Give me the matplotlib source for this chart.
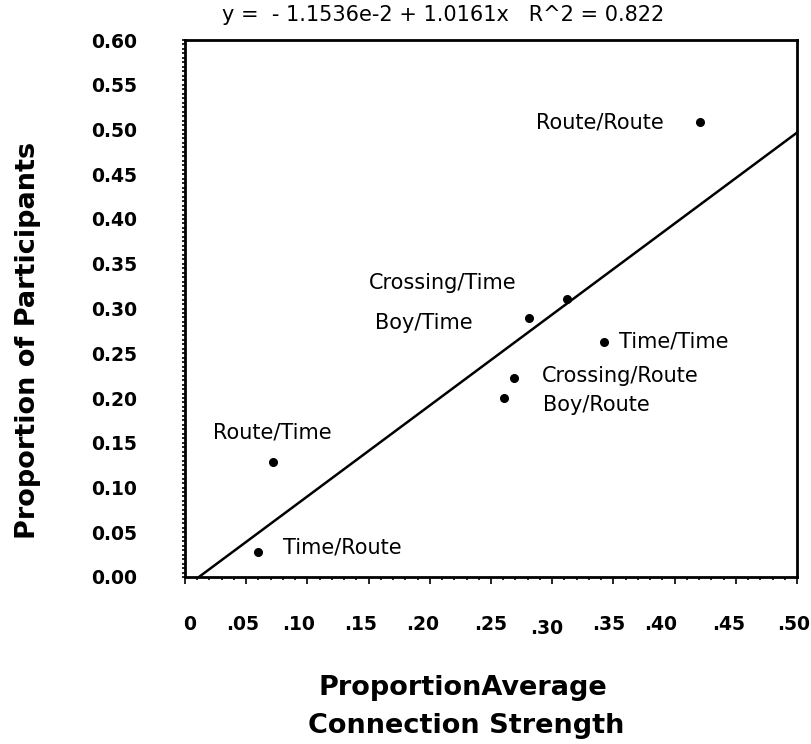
import numpy as np
import matplotlib.pyplot as plt
from matplotlib.ticker import MultipleLocator, FixedFormatter, FixedLocator
from matplotlib.transforms import ScaledTranslation

# data
labels = ['Route/Route', 'Crossing/Time', 'Boy/Time', 'Time/Time',
          'Crossing/Route', 'Boy/Route', 'Route/Time', 'Time/Route']
conn_strength = [0.421, 0.312, 0.281, 0.342, 0.269, 0.261, 0.072, 0.060]
participants = [0.508, 0.311, 0.289, 0.263, 0.222, 0.200, 0.128, 0.028]

intercept = -1.1536e-2
slope = 1.0161
r2 = 0.822

x_ticks = [0, 0.05, 0.10, 0.15, 0.20, 0.25, 0.30, 0.35, 0.40, 0.45, 0.50]
x_ticklabels = ['0', '.05', '.10', '.15', '.20', '.25', '.30', '.35', '.40', '.45', '.50']
y_ticks = [0.0, 0.05, 0.10, 0.15, 0.20, 0.25, 0.30, 0.35, 0.40, 0.45, 0.50, 0.55, 0.60]

# label offsets in points (dx, dy, ha)
label_pos = {
    'Route/Route': (-26.5, 0, 'right'),
    'Crossing/Time': (-142.5, 11.5, 'left'),
    'Boy/Time': (-111, -3.5, 'left'),
    'Time/Time': (11, 0, 'left'),
    'Crossing/Route': (20, 1.5, 'left'),
    'Boy/Route': (27.5, -5, 'left'),
    'Route/Time': (-43, 21.5, 'left'),
    'Time/Route': (18, 3.5, 'left'),
}
# the original's x tick labels sit a little off their ticks (points)
xlab_shift = [(3.6, 0), (-2.9, 0), (-6.5, 0), (-5.8, 0), (-5, 0), (0, 0),
              (-4.3, -3.6), (-3.6, 0), (-10, 0), (-5, 0), (-2.2, 0)]

plt.rcParams['font.family'] = ['DejaVu Sans']

fig = plt.figure(figsize=(8.11, 7.44), dpi=100)
ax = fig.add_axes([185 / 811, 1 - 577 / 744, 612 / 811, 537 / 744])

ax.plot(conn_strength, participants, 'o', color='black', markersize=5.5)

x0 = -intercept / slope
xs = np.array([x0, 0.5])
ax.plot(xs, intercept + slope * xs, color='black', linewidth=1.8)

for lab, xv, yv in zip(labels, conn_strength, participants):
    dx, dy, ha = label_pos[lab]
    ax.annotate(lab, (xv, yv), xytext=(dx, dy), textcoords='offset points',
                ha=ha, va='center', fontsize=15)

ax.set_xlim(0, 0.5)
ax.set_ylim(0, 0.6)
ax.xaxis.set_major_locator(FixedLocator(x_ticks))
ax.xaxis.set_major_formatter(FixedFormatter(x_ticklabels))
ax.xaxis.set_minor_locator(MultipleLocator(0.01))
ax.yaxis.set_major_locator(FixedLocator(y_ticks))
ax.yaxis.set_major_formatter(FixedFormatter(['%.2f' % v for v in y_ticks]))
ax.yaxis.set_minor_locator(MultipleLocator(0.005))

ax.tick_params(which='both', direction='out', width=1.2, labelsize=13.5)
ax.tick_params(axis='x', which='major', length=5, pad=22)
ax.tick_params(axis='x', which='minor', length=2.5)
ax.tick_params(axis='y', which='both', length=2.5, pad=32)

for t in ax.get_xticklabels() + ax.get_yticklabels():
    t.set_fontweight('bold')
for t, (dx, dy) in zip(ax.get_xticklabels(), xlab_shift):
    t.set_transform(t.get_transform() + ScaledTranslation(dx / 72, dy / 72, fig.dpi_scale_trans))

for s in ax.spines.values():
    s.set_linewidth(2.0)

fig.text(28 / 811, 1 - 340 / 744, 'Proportion of Participants', rotation=90,
         ha='center', va='center', fontsize=19.5, fontweight='bold')
fig.text(463 / 811, 1 - 688 / 744, 'ProportionAverage',
         ha='center', va='center', fontsize=19.5, fontweight='bold')
fig.text(466 / 811, 1 - 726 / 744, 'Connection Strength',
         ha='center', va='center', fontsize=19.5, fontweight='bold')

fig.text(443 / 811, 1 - 15 / 744,
         'y =  - 1.1536e-2 + 1.0161x   R^2 = %.3f' % r2,
         ha='center', va='center', fontsize=15)

fig.savefig('out.png', dpi=100)
